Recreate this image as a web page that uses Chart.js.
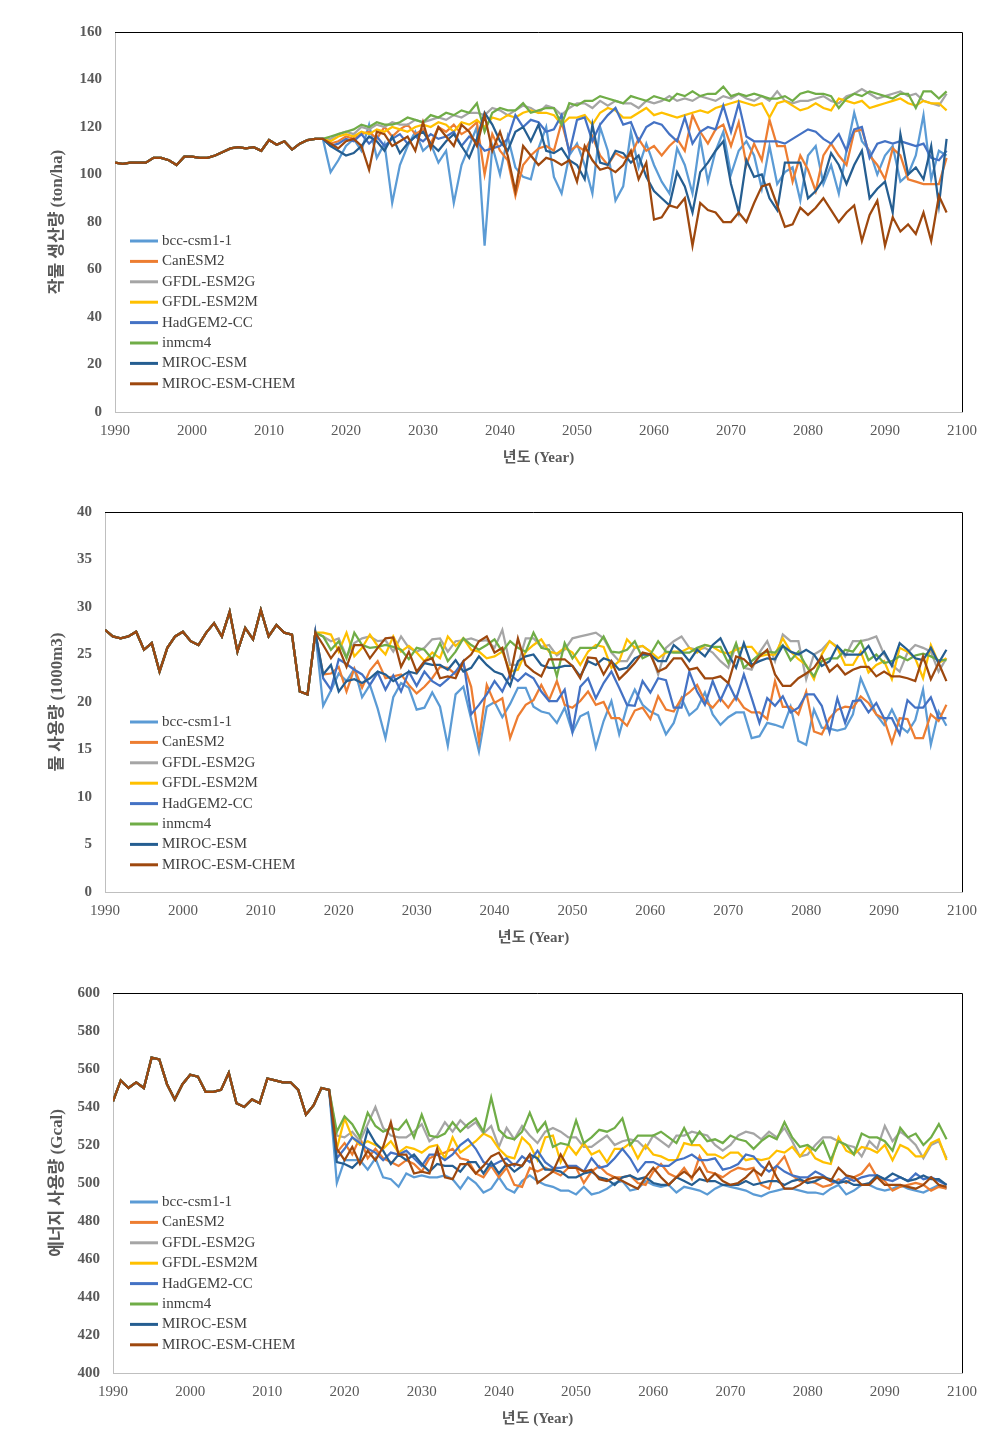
<!DOCTYPE html>
<html>
<head>
<meta charset="utf-8">
<script src="https://cdn.jsdelivr.net/npm/chart.js@4.4.0/dist/chart.umd.min.js"></script>
<style>
  html, body { margin: 0; padding: 0; background: #fff; }
  .panel { position: absolute; left: 0; width: 1008px; }
</style>
</head>
<body>
<div class="panel" style="top:0;height:480px"><canvas id="cropChart"></canvas></div>
<div class="panel" style="top:480px;height:480px"><canvas id="waterChart"></canvas></div>
<div class="panel" style="top:960px;height:481px"><canvas id="energyChart"></canvas></div>
<script>
// ---------- data ----------
const models = ['bcc-csm1-1', 'CanESM2', 'GFDL-ESM2G', 'GFDL-ESM2M', 'HadGEM2-CC', 'inmcm4', 'MIROC-ESM', 'MIROC-ESM-CHEM'];
const firstYear = 1990;
const xTicks = [1990, 2000, 2010, 2020, 2030, 2040, 2050, 2060, 2070, 2080, 2090, 2100];

// 작물 생산량 : 1990-2017 common, models 2018-2098
const cropHist = [105, 104.5, 105, 105, 105, 107, 107, 106, 104, 107.5, 107.5, 107, 107, 108, 109.5, 111, 111.5, 111, 111.5, 110, 114.5, 112.5, 114, 110.5, 113, 114.5, 115, 115];
const cropBcc = [101, 106,
  112, 115, 110, 121, 107, 113, 88, 104, 112, 118,
  110, 113, 105, 110, 88, 104, 112, 120, 70, 112,
  100, 116, 103, 99, 98, 111, 120, 99, 92, 108,
  113, 104, 92, 120, 110, 89, 95, 118, 103, 113,
  104, 97, 92, 111, 104, 92, 115, 97, 110, 118,
  100, 110, 114, 108, 94, 112, 96, 101, 103, 89,
  108, 112, 96, 104, 92, 110, 126, 114, 110, 100,
  108, 112, 97, 100, 108, 125, 98, 110, 108];
const cropCan = [113, 114,
  116, 115, 117, 118, 115, 120, 116, 119, 121, 117,
  119, 113, 120, 118, 121, 117, 119, 122, 100, 117,
  110, 106, 91, 104, 108, 111, 112, 110, 122, 110,
  112, 110, 116, 108, 104, 109, 107, 108, 115, 110,
  112, 108, 112, 115, 110, 125, 118, 113, 119, 121,
  112, 122, 104, 113, 106, 123, 112, 112, 97, 108,
  102, 93, 108, 113, 108, 104, 118, 119, 108, 104,
  98, 111, 108, 98, 97, 96, 96, 96, 107];
const cropGfdlG = [115, 117,
  118, 117, 120, 119, 121, 120, 122, 121, 121, 123,
  122, 123, 124, 123, 125, 124, 126, 126, 125, 128,
  127, 125, 127, 129, 128, 126, 129, 128, 125, 128,
  130, 130, 128, 131, 129, 131, 130, 130, 128, 131,
  130, 131, 133, 131, 132, 131, 133, 132, 131, 133,
  132, 134, 132, 131, 133, 131, 135, 131, 130, 131,
  131, 132, 133, 131, 130, 133, 134, 136, 134, 132,
  133, 134, 135, 133, 134, 131, 130, 129, 134];
const cropGfdlM = [114, 116,
  117, 116, 118, 117, 119, 118, 120, 119, 118, 120,
  121, 120, 122, 121, 118, 122, 121, 123, 120, 124,
  123, 125, 124, 126, 127, 126, 126, 125, 121, 124,
  124, 125, 121, 126, 128, 127, 124, 124, 126, 128,
  125, 126, 125, 124, 125, 126, 127, 126, 128, 129,
  130, 131, 130, 129, 130, 124, 130, 131, 129, 127,
  128, 130, 128, 127, 132, 131, 130, 131, 128, 129,
  130, 131, 132, 130, 129, 131, 130, 130, 127];
const cropHad = [112, 113,
  115, 114, 117, 113, 116, 112, 115, 117, 113, 116,
  114, 117, 115, 116, 118, 112, 116, 114, 110, 111,
  112, 115, 125, 120, 123, 122, 118, 119, 125, 109,
  123, 124, 114, 121, 125, 128, 121, 122, 114, 120,
  122, 121, 117, 114, 124, 113, 118, 120, 119, 129,
  118, 130, 116, 114, 114, 114, 114, 113, 115, 117,
  119, 118, 115, 113, 117, 110, 119, 120, 107, 113,
  114, 113, 114, 113, 112, 113, 107, 106, 110];
const cropInm = [116, 117,
  118, 119, 121, 120, 122, 121, 121, 122, 124, 123,
  122, 125, 124, 126, 125, 127, 126, 130, 118, 126,
  128, 127, 127, 130, 126, 127, 128, 128, 121, 130,
  129, 131, 131, 133, 132, 131, 130, 133, 132, 131,
  133, 132, 131, 134, 133, 135, 133, 134, 134, 137,
  133, 134, 133, 134, 133, 132, 132, 133, 131, 134,
  135, 134, 134, 133, 128, 132, 134, 133, 135, 134,
  133, 132, 134, 134, 128, 135, 135, 132, 135];
const cropMiroc = [112, 110,
  108, 109, 112, 116, 114, 110, 116, 109, 113, 116,
  118, 113, 110, 114, 117, 112, 107, 115, 126, 121,
  114, 110, 118, 120, 114, 121, 110, 109, 111, 106,
  104, 98, 121, 105, 104, 110, 109, 105, 108, 99,
  93, 90, 87, 101, 95, 84, 101, 105, 110, 114,
  96, 84, 106, 99, 100, 90, 85, 105, 105, 105,
  90, 93, 98, 109, 104, 96, 104, 110, 90, 94,
  97, 84, 117, 100, 103, 98, 112, 87, 115];
const cropMirocChem = [113, 111,
  114, 115, 112, 102, 118, 117, 112, 114, 116, 110,
  122, 111, 120, 116, 112, 121, 118, 112, 125, 110,
  118, 108, 93, 112, 108, 104, 107, 106, 104, 106,
  97, 112, 106, 102, 103, 101, 104, 110, 98, 105,
  81, 82, 87, 86, 90, 70, 88, 85, 84, 80,
  80, 84, 80, 88, 95, 96, 87, 78, 79, 86,
  83, 86, 90, 85, 80, 84, 87, 72, 83, 89,
  70, 82, 76, 79, 75, 84, 72, 91, 84];

// 물 사용량 : 1990-2017 common, models 2018-2098
const waterHist = [27.6, 26.9, 26.7, 26.9, 27.4, 25.5, 26.2, 23.2, 25.7, 26.9, 27.4, 26.4, 26.0, 27.3, 28.3, 26.9, 29.5, 25.3, 27.8, 26.6, 29.7, 26.9, 28.1, 27.3, 27.1, 21.1, 20.8, 27.3];
const waterBcc = [19.6, 21.2,
  23.0, 22.2, 23.5, 20.5, 21.8, 19.3, 16.2, 20.5, 22.0, 21.5,
  19.2, 19.4, 21.0, 19.5, 15.4, 20.8, 21.6, 18.2, 14.8, 19.5,
  20.0, 18.4, 19.8, 21.5, 21.5, 19.5, 19.0, 18.8, 17.8, 19.4,
  16.8, 18.5, 18.9, 15.2, 18.0, 20.1, 16.6, 19.5, 21.3, 19.7,
  19.0, 18.6, 16.6, 17.8, 20.4, 18.6, 19.3, 21.0, 18.7, 17.6,
  18.4, 18.9, 18.9, 16.2, 16.4, 17.8, 17.6, 17.3, 19.5, 15.9,
  15.5, 19.2, 17.3, 17.2, 17.0, 17.2, 18.7, 22.5, 20.6, 18.7,
  17.6, 19.2, 17.5, 16.8, 18.1, 21.3, 15.5, 19.0, 17.5];
const waterCan = [22.9, 23.0,
  23.7, 21.1, 23.5, 21.5, 23.3, 24.3, 22.5, 22.7, 22.9, 21.8,
  20.9, 21.6, 22.5, 23.7, 23.6, 22.9, 24.0, 21.6, 15.9, 21.8,
  19.9, 20.4, 16.2, 18.5, 19.7, 20.2, 21.8, 20.2, 22.2, 19.7,
  19.4, 20.1, 21.1, 19.7, 20.0, 18.3, 18.3, 17.5, 19.1, 19.4,
  18.2, 20.6, 19.2, 19.0, 20.4, 21.0, 21.8, 20.1, 19.4, 20.4,
  19.4, 20.6, 19.4, 18.9, 18.9, 18.2, 22.2, 19.5, 19.5, 18.7,
  21.1, 16.9, 16.6, 18.3, 19.2, 19.5, 19.4, 20.6, 19.9, 18.7,
  18.2, 15.7, 18.3, 18.2, 16.2, 16.2, 18.7, 18.0, 19.7];
const waterGfdlG = [26.9, 26.4,
  26.7, 24.8, 26.2, 26.7, 26.9, 26.4, 26.5, 25.3, 26.9, 25.7,
  25.3, 25.7, 26.6, 26.7, 25.3, 26.4, 26.5, 26.7, 26.4, 26.5,
  25.7, 27.6, 23.9, 23.9, 26.7, 26.7, 25.8, 26.0, 24.9, 25.5,
  26.7, 26.9, 27.1, 27.3, 26.7, 25.2, 24.3, 24.3, 25.7, 25.9,
  25.3, 22.9, 25.7, 26.4, 26.9, 25.7, 25.5, 25.7, 25.2, 24.3,
  23.6, 26.0, 23.6, 23.4, 25.2, 26.4, 24.3, 27.1, 26.4, 26.4,
  22.4, 25.0, 25.5, 26.4, 25.8, 24.8, 26.4, 26.4, 26.6, 26.9,
  25.0, 23.9, 23.2, 25.2, 26.0, 25.7, 25.3, 23.2, 24.6];
const waterGfdlM = [27.3, 27.1,
  25.3, 27.3, 24.8, 25.7, 27.1, 25.9, 25.0, 26.9, 25.3, 25.9,
  25.2, 24.3, 25.2, 24.6, 26.9, 25.9, 26.7, 25.5, 25.3, 24.6,
  24.8, 25.3, 23.2, 23.4, 25.3, 26.0, 26.6, 25.3, 25.1, 25.7,
  25.2, 23.9, 25.3, 26.0, 25.8, 23.6, 24.3, 26.6, 25.7, 25.9,
  25.3, 24.6, 25.2, 25.3, 25.3, 25.7, 25.2, 26.0, 25.8, 25.3,
  25.1, 25.5, 25.8, 25.8, 24.8, 25.0, 25.0, 26.7, 25.3, 24.5,
  23.9, 22.4, 25.0, 26.4, 25.7, 23.9, 23.9, 25.3, 23.1, 23.9,
  24.3, 22.4, 25.7, 25.3, 24.6, 22.5, 26.0, 24.1, 24.6];
const waterHad = [22.5, 21.3,
  24.5, 24.0, 23.4, 22.9, 21.8, 23.1, 21.3, 22.8, 21.1, 23.2,
  21.7, 23.2, 22.2, 21.7, 22.4, 23.2, 24.3, 18.7, 19.7, 20.8,
  22.2, 21.1, 22.9, 22.2, 23.0, 22.5, 21.1, 20.1, 20.1, 21.3,
  16.9, 21.6, 22.5, 20.4, 22.0, 23.2, 21.5, 19.7, 19.6, 22.2,
  21.0, 22.5, 22.3, 19.4, 19.4, 23.2, 21.1, 19.7, 22.2, 20.2,
  22.0, 20.3, 22.9, 20.4, 17.8, 20.4, 19.6, 20.6, 18.9, 19.4,
  20.8, 20.8, 19.6, 16.8, 20.4, 17.8, 20.1, 20.2, 18.9, 19.9,
  18.3, 18.3, 16.6, 20.2, 19.4, 19.4, 20.5, 18.3, 18.3];
const waterInm = [26.9, 25.5,
  26.4, 24.6, 27.3, 26.0, 25.7, 25.8, 26.0, 25.8, 25.5, 24.5,
  25.7, 25.5, 24.5, 26.2, 24.3, 25.3, 26.7, 26.0, 25.5, 26.0,
  26.6, 25.3, 26.4, 25.7, 25.3, 27.3, 25.7, 25.5, 22.7, 26.2,
  24.6, 25.7, 25.7, 25.7, 26.9, 25.3, 25.2, 25.5, 26.4, 24.6,
  25.0, 26.4, 25.3, 25.2, 25.2, 25.2, 25.7, 26.0, 25.8, 25.8,
  24.1, 26.2, 23.6, 24.3, 25.0, 25.3, 25.2, 26.0, 24.4, 25.3,
  23.8, 22.7, 24.3, 24.6, 24.6, 25.5, 25.3, 26.4, 24.4, 25.0,
  24.1, 24.3, 24.8, 24.4, 24.9, 25.1, 24.8, 24.4, 24.4];
const waterMiroc = [22.9, 23.9,
  21.1, 22.2, 22.4, 22.0, 22.5, 23.2, 22.9, 22.2, 22.7, 23.2,
  23.0, 24.1, 23.9, 23.9, 23.4, 24.4, 23.2, 23.6, 24.8, 23.9,
  23.2, 22.9, 21.7, 24.3, 24.8, 25.0, 23.9, 23.6, 23.6, 23.8,
  23.8, 22.7, 24.3, 23.9, 24.6, 24.3, 23.4, 23.6, 24.6, 25.0,
  25.0, 24.3, 24.3, 26.0, 25.3, 24.3, 25.5, 24.8, 26.0, 26.7,
  25.0, 23.6, 26.2, 23.9, 24.3, 24.6, 24.5, 25.9, 25.3, 25.0,
  25.5, 25.0, 23.8, 24.3, 25.9, 25.0, 25.0, 25.0, 25.9, 24.4,
  25.3, 23.8, 26.2, 25.5, 24.6, 24.4, 25.7, 24.1, 25.5];
const waterMirocChem = [26.0, 24.6,
  25.7, 23.7, 26.0, 26.0, 24.6, 25.7, 26.7, 26.8, 23.7, 25.3,
  23.2, 24.3, 24.6, 22.5, 22.7, 22.5, 24.3, 25.0, 26.4, 26.9,
  25.2, 25.7, 22.7, 26.7, 23.9, 23.2, 22.7, 24.5, 24.5, 24.5,
  23.8, 22.5, 24.7, 24.6, 22.9, 24.3, 22.4, 23.2, 24.1, 25.2,
  25.0, 23.2, 23.6, 24.6, 24.6, 23.4, 23.6, 22.5, 22.5, 22.7,
  22.0, 24.8, 24.5, 23.7, 24.8, 25.5, 22.9, 21.7, 21.7, 22.5,
  23.0, 23.6, 24.8, 23.2, 23.9, 22.9, 23.4, 23.7, 23.7, 22.7,
  23.2, 22.7, 22.7, 22.5, 22.2, 24.8, 22.4, 24.1, 22.2];

// 에너지 사용량 : 1990-2018 common, models 2019-2098
const energyHist = [543, 554, 550, 553, 550, 566, 565, 552, 544, 552, 557, 556, 548, 548, 549, 558, 542, 540, 544, 542, 555, 554, 553, 553, 549, 536, 541, 550, 549];
const energyBcc = [500,
  512, 512, 512, 507, 513, 503, 502, 498, 505, 503,
  504, 503, 503, 504, 502, 497, 503, 500, 495, 497,
  503, 497, 495, 501, 504, 501, 499, 498, 496, 496,
  494, 498, 494, 495, 497, 500, 501, 496, 497, 501,
  499, 498, 499, 495, 498, 497, 496, 494, 497, 499,
  498, 497, 496, 494, 493, 495, 496, 497, 497, 496,
  495, 495, 494, 497, 499, 494, 496, 499, 499, 497,
  496, 497, 499, 497, 496, 495, 497, 499, 497];
const energyCan = [516,
  521, 515, 524, 513, 518, 513, 511, 509, 512, 510,
  506, 513, 515, 516, 518, 513, 512, 505, 503, 509,
  503, 508, 499, 498, 508, 506, 508, 506, 504, 508,
  508, 500, 506, 509, 505, 503, 503, 504, 500, 499,
  506, 510, 505, 503, 508, 502, 514, 506, 505, 503,
  506, 508, 507, 508, 499, 497, 509, 514, 504, 501,
  501, 500, 498, 499, 502, 500, 503, 505, 510, 503,
  501, 496, 498, 499, 500, 499, 496, 498, 497];
const energyGfdlG = [525,
  524, 527, 522, 531, 540, 529, 525, 524, 524, 527,
  531, 522, 525, 532, 527, 533, 529, 532, 526, 530,
  519, 529, 523, 530, 525, 521, 527, 529, 527, 524,
  524, 519, 519, 522, 525, 520, 522, 523, 522, 518,
  525, 522, 519, 525, 525, 527, 526, 525, 520, 517,
  520, 525, 527, 526, 523, 527, 524, 529, 522, 514,
  515, 520, 524, 524, 522, 520, 519, 514, 522, 518,
  530, 522, 527, 524, 520, 513, 520, 522, 513];
const energyGfdlM = [518,
  534, 524, 520, 522, 520, 518, 522, 516, 519, 518,
  516, 519, 520, 513, 524, 516, 519, 522, 526, 524,
  518, 514, 513, 524, 520, 512, 524, 525, 511, 520,
  515, 521, 515, 517, 511, 518, 518, 521, 513, 520,
  515, 514, 512, 512, 521, 520, 520, 515, 515, 513,
  516, 516, 512, 513, 512, 513, 517, 516, 519, 514,
  519, 513, 511, 510, 524, 517, 515, 519, 518, 516,
  520, 512, 520, 518, 514, 514, 521, 523, 512];
const energyHad = [513,
  518, 524, 521, 518, 516, 512, 516, 515, 517, 513,
  509, 515, 515, 512, 515, 520, 523, 518, 511, 509,
  511, 513, 509, 514, 511, 517, 511, 508, 508, 509,
  509, 506, 513, 508, 509, 513, 518, 513, 506, 511,
  511, 509, 509, 512, 513, 515, 512, 512, 513, 507,
  508, 510, 515, 514, 509, 506, 509, 506, 504, 503,
  503, 506, 504, 501, 500, 503, 501, 503, 504, 504,
  502, 501, 503, 501, 505, 502, 503, 501, 499];
const energyInm = [527,
  535, 531, 524, 537, 530, 527, 529, 528, 533, 524,
  536, 525, 524, 526, 532, 527, 531, 534, 527, 545,
  528, 524, 523, 527, 537, 527, 532, 519, 521, 520,
  533, 521, 524, 528, 527, 529, 534, 520, 525, 525,
  525, 527, 524, 521, 529, 521, 527, 522, 523, 521,
  525, 523, 522, 518, 522, 525, 523, 532, 524, 519,
  520, 517, 522, 512, 522, 520, 515, 526, 524, 524,
  522, 517, 529, 524, 526, 520, 524, 531, 523];
const energyMiroc = [511,
  510, 508, 512, 528, 521, 517, 510, 515, 512, 515,
  510, 506, 510, 509, 509, 506, 511, 511, 505, 511,
  505, 510, 506, 509, 515, 513, 507, 507, 506, 503,
  503, 505, 506, 503, 502, 499, 503, 504, 502, 503,
  500, 499, 499, 503, 501, 499, 502, 501, 501, 499,
  499, 499, 501, 499, 500, 501, 501, 499, 501, 502,
  500, 501, 503, 502, 500, 501, 499, 499, 500, 504,
  502, 505, 503, 501, 502, 504, 502, 502, 499];
const energyMirocChem = [518,
  512, 519, 510, 517, 512, 519, 532, 515, 515, 505,
  506, 505, 518, 503, 502, 510, 510, 505, 509, 514,
  516, 509, 510, 509, 515, 500, 503, 506, 515, 508,
  508, 506, 507, 502, 501, 503, 501, 499, 497, 503,
  508, 503, 499, 503, 506, 503, 508, 501, 505, 501,
  499, 500, 503, 507, 504, 511, 503, 497, 497, 499,
  502, 503, 503, 501, 508, 504, 503, 499, 499, 503,
  499, 499, 499, 498, 497, 499, 503, 499, 498];

// ---------- styles ----------
const lineColors = ['#5B9BD5', '#ED7D31', '#A5A5A5', '#FFC000', '#4472C4', '#70AD47', '#255E91', '#9E480E'];
const textColor = '#595959';
const serif = '"Liberation Serif", "Times New Roman", "Noto Sans CJK KR", serif';

// 플롯 영역 위/오른쪽 검은 테두리 + 플롯 안쪽 범례
const framePlugin = {
  id: 'frameLegend',
  afterDraw(chart, args, opts) {
    const { ctx, chartArea: a } = chart;
    ctx.save();
    ctx.strokeStyle = '#000';
    ctx.lineWidth = 1;
    ctx.beginPath();
    ctx.moveTo(a.left, a.top + 0.5);
    ctx.lineTo(a.right + 0.5, a.top + 0.5);
    ctx.lineTo(a.right + 0.5, a.bottom);
    ctx.stroke();

    ctx.font = '15px ' + serif;
    ctx.textBaseline = 'middle';
    ctx.textAlign = 'left';
    chart.data.datasets.forEach((ds, i) => {
      const y = opts.y + i * opts.gap;
      ctx.strokeStyle = ds.borderColor;
      ctx.lineWidth = 3;
      ctx.beginPath();
      ctx.moveTo(opts.x, y);
      ctx.lineTo(opts.x + 28, y);
      ctx.stroke();
      ctx.fillStyle = '#404040';
      ctx.fillText(ds.label, opts.x + 32, y);
    });
    ctx.restore();
  }
};

function toPoints(hist, future) {
  return hist.concat(future).map((v, i) => ({ x: firstYear + i, y: v }));
}

function makeChart(canvasId, hist, futures, yMin, yMax, yStep, yTitle, plotLeft, padTop, legendY) {
  new Chart(document.getElementById(canvasId), {
    type: 'line',
    data: {
      datasets: models.map((m, i) => ({
        label: m,
        data: toPoints(hist, futures[i]),
        borderColor: lineColors[i],
        backgroundColor: lineColors[i],
        borderWidth: 2.25,
        pointRadius: 0,
        tension: 0,
        fill: false,
        order: models.length - i   // 마지막 계열(MIROC-ESM-CHEM)이 맨 위에 그려지도록
      }))
    },
    options: {
      responsive: true,
      maintainAspectRatio: false,
      animation: false,
      layout: { padding: { top: padTop, right: 46, left: 0, bottom: 0 } },
      plugins: {
        legend: { display: false },
        tooltip: { enabled: false },
        frameLegend: { x: 130, y: legendY, gap: 20.4 }
      },
      scales: {
        x: {
          type: 'linear',
          min: xTicks[0],
          max: xTicks[xTicks.length - 1],
          afterBuildTicks: s => { s.ticks = xTicks.map(v => ({ value: v })); },
          afterFit: s => { s.height = 68; },
          grid: { display: false, drawTicks: false },
          border: { color: '#bfbfbf', width: 1 },
          ticks: { color: textColor, font: { family: serif, size: 15 }, padding: 10, maxRotation: 0, callback: v => String(v) },
          title: { display: true, text: '년도 (Year)', color: textColor, font: { family: serif, size: 15, weight: 'bold' }, padding: { top: 0, bottom: 13 } }
        },
        y: {
          min: yMin,
          max: yMax,
          afterFit: s => { s.width = plotLeft; },
          grid: { display: false, drawTicks: false },
          border: { color: '#bfbfbf', width: 1 },
          ticks: { stepSize: yStep, color: textColor, font: { family: serif, size: 15, weight: 'bold' }, padding: 13 },
          title: { display: true, text: yTitle, color: textColor, font: { family: serif, size: 17, weight: 'bold' }, padding: { top: 47, bottom: 0 } }
        }
      }
    },
    plugins: [framePlugin]
  });
}

makeChart('cropChart', cropHist,
  [cropBcc, cropCan, cropGfdlG, cropGfdlM, cropHad, cropInm, cropMiroc, cropMirocChem],
  0, 160, 20, '작물 생산량 (ton/ha)', 115, 32, 241);

makeChart('waterChart', waterHist,
  [waterBcc, waterCan, waterGfdlG, waterGfdlM, waterHad, waterInm, waterMiroc, waterMirocChem],
  0, 40, 5, '물 사용량 (1000m3)', 105, 32, 242);

makeChart('energyChart', energyHist,
  [energyBcc, energyCan, energyGfdlG, energyGfdlM, energyHad, energyInm, energyMiroc, energyMirocChem],
  400, 600, 20, '에너지 사용량 (Gcal)', 113, 33, 242);
</script>
</body>
</html>
